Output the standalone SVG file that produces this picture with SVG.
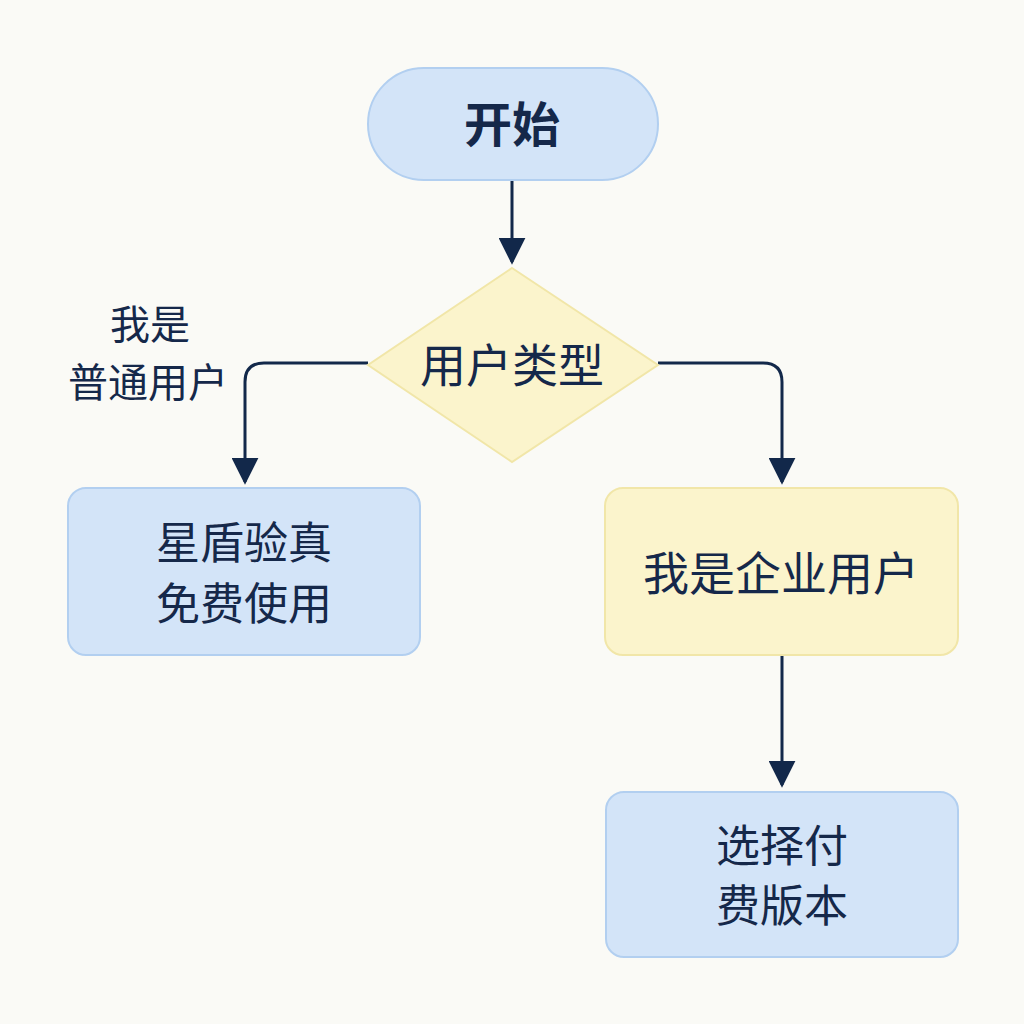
<svg xmlns="http://www.w3.org/2000/svg" width="1024" height="1024" viewBox="0 0 1024 1024">
<style>
text{font-family:"Noto Sans CJK SC","Liberation Sans",sans-serif;fill:#15284a;text-anchor:middle}
.blue{fill:#d3e4f8;stroke:#b2cff0;stroke-width:2}
.yel{fill:#fbf4cc;stroke:#f1e6a8;stroke-width:2}
.c{fill:none;stroke:#12284a;stroke-width:3}
</style>
<defs><marker id="a" viewBox="0 0 10 10" refX="9" refY="5" markerWidth="9" markerHeight="9" orient="auto"><path d="M0,0 L10,5 L0,10 z" fill="#12284a"/></marker></defs>
<rect width="1024" height="1024" fill="#fafaf6"/>
<g id="connectors">
<path class="c" d="M512,180 V262" marker-end="url(#a)"/>
<path class="c" d="M368,363 H264 Q245,363 245,382 V482" marker-end="url(#a)"/>
<path class="c" d="M658,363 H763 Q782,363 782,382 V482" marker-end="url(#a)"/>
<path class="c" d="M782,655 V785" marker-end="url(#a)"/>
<text x="150" y="339" font-size="40">我是</text>
<text x="148" y="397" font-size="40">普通用户</text>
</g>
<g id="start"><rect class="blue" x="368" y="68" width="290" height="112" rx="56"/><text x="512" y="142" font-size="48" font-weight="bold">开始</text></g>
<g id="decision"><polygon class="yel" points="512,268 658,365 512,462 368,365"/><text x="512" y="382" font-size="46">用户类型</text></g>
<g id="free"><rect class="blue" x="68" y="488" width="352" height="167" rx="18"/><text x="244" y="559" font-size="44">星盾验真</text><text x="244" y="620" font-size="44">免费使用</text></g>
<g id="enterprise"><rect class="yel" x="605" y="488" width="353" height="167" rx="18"/><text x="781" y="590" font-size="46">我是企业用户</text></g>
<g id="paid"><rect class="blue" x="606" y="792" width="352" height="165" rx="18"/><text x="782" y="862" font-size="44">选择付</text><text x="782" y="922" font-size="44">费版本</text></g>
</svg>
